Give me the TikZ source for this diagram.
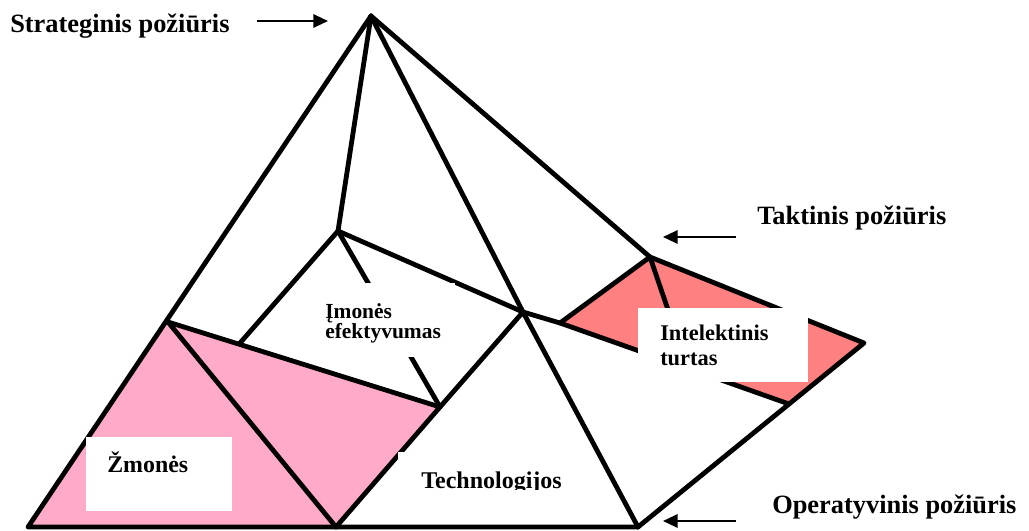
\documentclass[tikz,border=0pt]{standalone}
\usepackage{fontspec}
\setmainfont{Liberation Serif}
\usetikzlibrary{arrows.meta}
\definecolor{pinkL}{RGB}{255,170,200}
\definecolor{pinkR}{RGB}{255,128,128}
\begin{document}
\begin{tikzpicture}[x=0.75pt,y=-0.75pt,
  edge/.style={line width=3.6pt, line cap=round, line join=round},
  arr/.style={line width=1.6pt, -{Triangle[length=11pt,width=10pt]}},
  big/.style={font=\bfseries\fontsize{19.8}{22}\selectfont, inner sep=0pt, anchor=base west},
  lab/.style={inner sep=0pt, anchor=base west},
  occluder/.style={fill=white}]
\useasboundingbox (0,0) rectangle (1029,531);
% vertices
\coordinate (A) at (371,16);
\coordinate (BL) at (28,527);
\coordinate (L) at (168,322);
\coordinate (BM) at (336,527);
\coordinate (P) at (440,407);
\coordinate (M) at (338,231);
\coordinate (Lp) at (240,343);
\coordinate (Q) at (523,312);
\coordinate (BR) at (638,527);
\coordinate (T) at (650,257);
\coordinate (Lq) at (560,323);
\coordinate (R) at (864,343);
\coordinate (B) at (789,404);
\coordinate (Ts) at (680,345);
% fills
\fill[pinkL] (BL) -- (L) -- (P) -- (BM) -- cycle;
\fill[pinkR] (T) -- (R) -- (B) -- (Lq) -- cycle;
% edges
\draw[edge] (A) -- (BL) -- (BR);
\draw[edge] (A) -- (M);
\draw[edge] (A) -- (Q);
\draw[edge] (A) -- (T) -- (R) -- (BR);
\draw[edge] (L) -- (BM);
\draw[edge] (L) -- (P) -- (BM);
\draw[edge] (P) -- (Q) -- (BR);
\draw[edge] (M) -- (Lp);
\draw[edge] (M) -- (P);
\draw[edge] (M) -- (Q) -- (Lq) -- (B);
\draw[edge] (Lq) -- (T) -- (Ts);
% white label boxes
\fill[occluder] (300,283) rectangle (455,357);
\fill[occluder] (638,308) rectangle (808,382);
\fill[occluder] (86,437) rectangle (232,511);
\fill[occluder] (398,452) rectangle (590,489);
% inner labels
\node[lab, font=\bfseries\fontsize{16.1}{18}\selectfont] (im1) at (325,318) {Įmonės};
\node[lab, font=\bfseries\fontsize{16.1}{18}\selectfont] (im2) at (325,339) {efektyvumas};
\node[lab, font=\bfseries\fontsize{16.8}{19}\selectfont] (in1) at (660,340) {Intelektinis};
\node[lab, font=\bfseries\fontsize{16.8}{19}\selectfont] (in2) at (660,365) {turtas};
\node[lab, font=\bfseries\fontsize{17.9}{20}\selectfont] (zm) at (107,472) {Žmonės};
\begin{scope}
\clip (398,452) rectangle (590,489);
\node[lab, font=\bfseries\fontsize{18}{20}\selectfont] (te) at (421,488) {Technologijos};
\end{scope}
% outer labels
\node[big] (st) at (10,33) {Strateginis požiūris};
\node[big] (ta) at (757,225) {Taktinis požiūris};
\node[big] (op) at (772,513) {Operatyvinis požiūris};
% arrows
\coordinate (s1) at (257,21); \coordinate (s2) at (328,21);
\coordinate (t1) at (736,237); \coordinate (t2) at (663,237);
\coordinate (o1) at (736,521); \coordinate (o2) at (663,521);
\draw[arr] (s1) -- (s2);
\draw[arr] (t1) -- (t2);
\draw[arr] (o1) -- (o2);
\end{tikzpicture}
\end{document}
